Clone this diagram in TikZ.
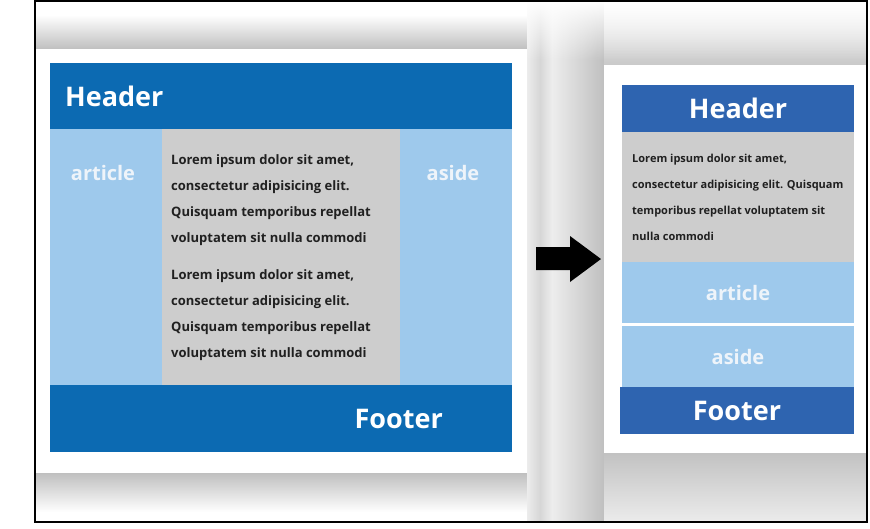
\documentclass[tikz,border=0pt]{standalone}
\usepackage{fontspec}
\setmainfont{Open Sans}
\usetikzlibrary{positioning,fadings}

\definecolor{hdrblue}{RGB}{12,106,178}
\definecolor{hdrblueR}{RGB}{46,100,176}
\definecolor{colblue}{RGB}{158,201,236}
\definecolor{bodygrey}{RGB}{205,205,205}
\definecolor{inkgrey}{RGB}{32,32,32}
\definecolor{lbltext}{RGB}{238,244,250}

\tikzset{
  block/.style={anchor=north west,inner sep=0pt,outer sep=0pt},
  biglbl/.style={inner sep=0pt,text=white,font=\fontsize{27}{30}\selectfont\bfseries},
  collbl/.style={inner sep=0pt,text=lbltext,font=\fontsize{20}{24}\selectfont\bfseries},
  bodytxt/.style={inner sep=0pt,align=left,text=inkgrey,font=\fontsize{13}{26}\selectfont\bfseries},
  bodytxtR/.style={inner sep=0pt,align=left,text=inkgrey,font=\fontsize{11}{26}\selectfont\bfseries}
}

\begin{document}
\begin{tikzpicture}[x=1pt,y=-1pt]
\useasboundingbox (0,0) rectangle (870,528);

% shadows
\shade[top color=white,bottom color=gray!50] (35,15) rectangle (527,49);
\shade[top color=gray!50,bottom color=white] (35,473) rectangle (527,512);
\shade[left color=gray!15,right color=gray!32] (527,1) rectangle (540,522);
\shade[left color=gray!32,right color=gray!14] (540,1) rectangle (552,522);
\shade[left color=gray!14,right color=gray!50] (552,1) rectangle (604,522);
\shade[top color=gray!10,bottom color=gray!42] (604,1) rectangle (867,65);
\shade[top color=gray!48,bottom color=gray!15] (604,453) rectangle (867,522);
\fill[white,path fading=south] (527,1) rectangle (867,60);

% left page
\node[block,fill=white,minimum width=492,minimum height=424] (panelL) at (35,49) {};
\node[block,fill=hdrblue,minimum width=462,minimum height=66] (headL) at (50,63) {};
\node[block,fill=colblue,minimum width=112,minimum height=256] (artL) at (50,129) {};
\node[block,fill=bodygrey,minimum width=238,minimum height=256] (mainL) at (162,129) {};
\node[block,fill=colblue,minimum width=112,minimum height=256] (asideL) at (400,129) {};
\node[block,fill=hdrblue,minimum width=462,minimum height=67] (footL) at (50,385) {};

\node[biglbl,anchor=west] (headLtxt) at ([xshift=15pt]headL.west) {Header};
\node[biglbl,anchor=east] (footLtxt) at ([xshift=-69pt]footL.east) {Footer};
\node[collbl] (artLtxt) at ([xshift=-3pt,yshift=-44pt]artL.north) {article};
\node[collbl] (asideLtxt) at ([xshift=-3pt,yshift=-44pt]asideL.north) {aside};

\node[bodytxt,anchor=west] (paraA) at (171,200) {Lorem ipsum dolor sit amet,\\consectetur adipisicing elit.\\Quisquam temporibus repellat\\voluptatem sit nulla commodi};
\node[bodytxt,anchor=west] (paraB) at (171,315) {Lorem ipsum dolor sit amet,\\consectetur adipisicing elit.\\Quisquam temporibus repellat\\voluptatem sit nulla commodi};

% arrow
\fill[black] (536,247) -- (570,247) -- (570,236) -- (601,259) -- (570,282) -- (570,270) -- (536,270) -- cycle;

% right page
\node[block,fill=white,minimum width=263,minimum height=388] (panelR) at (604,65) {};
\node[block,biglbl,fill=hdrblueR,minimum width=232,minimum height=47] (headR) at (622,85) {Header};
\node[block,fill=bodygrey,minimum width=232,minimum height=130] (mainR) at (622,132) {};
\node[block,collbl,fill=colblue,minimum width=232,minimum height=61] (artR) at (622,262) {article};
\node[block,collbl,fill=colblue,minimum width=232,minimum height=61] (asideR) at (622,326) {aside};
\node[block,biglbl,fill=hdrblueR,minimum width=234,minimum height=47] (footR) at (620,387) {Footer};

\node[bodytxtR,anchor=west] (paraR) at (632,197) {Lorem ipsum dolor sit amet,\\consectetur adipisicing elit. Quisquam\\temporibus repellat voluptatem sit\\nulla commodi};

% frame
\draw[black,line width=1.2pt] (35,1) rectangle (867,522);
\end{tikzpicture}
\end{document}
